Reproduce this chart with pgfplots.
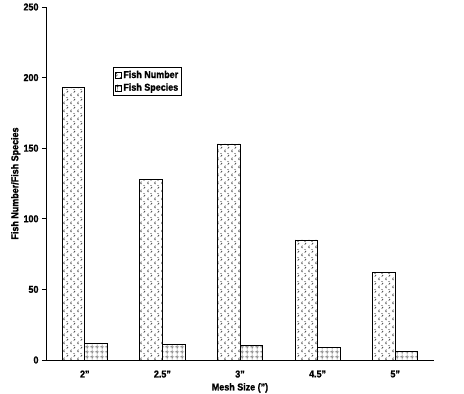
\documentclass[border=0pt]{standalone}
\usepackage{fontspec}
\setmainfont{Liberation Sans}[FakeStretch=0.9, BoldFeatures={FakeBold=1.2}]
\usepackage{pgfplots}
\pgfplotsset{compat=1.18}
\usetikzlibrary{patterns,patterns.meta}
\tikzdeclarepattern{
  name=dotgrid,
  type=uncolored,
  bottom left={(0,0)}, top right={(5bp,5bp)},
  tile size={(5bp,5bp)},
  code={\draw[line width=0.6bp, dash pattern=on 0.6bp off 0.6bp] (0,2.5bp) -- (5bp,2.5bp) (2.5bp,0) -- (2.5bp,5bp);}
}
\tikzdeclarepattern{
  name=chevdots,
  type=uncolored,
  bottom left={(0,0)}, top right={(7bp,8bp)},
  tile size={(7bp,8bp)},
  code={
    \fill (1bp,2bp) rectangle +(0.9bp,0.9bp);
    \fill (0.1bp,3bp) rectangle +(0.9bp,0.9bp);
    \fill (1bp,4bp) rectangle +(0.9bp,0.9bp);
    \fill (4.1bp,6bp) rectangle +(0.9bp,0.9bp);
    \fill (5bp,7bp) rectangle +(0.9bp,0.9bp);
    \fill (4.1bp,0bp) rectangle +(0.9bp,0.9bp);
  }
}
\begin{document}
\begin{tikzpicture}
\path[use as bounding box] (-46bp,-34bp) rectangle (418bp,360bp);
\begin{axis}[
  at={(0,0)}, anchor=south west,
  scale only axis, width=388bp, height=353bp,
  ybar, bar width=0.29,
  xmin=-0.5, xmax=4.5, ymin=0, ymax=250,
  axis x line*=bottom, axis y line*=left,
  axis line style={line width=0.8bp},
  xtick={0,1,2,3,4},
  xticklabels={2”,2.5”,3”,4.5”,5”},
  extra x ticks={-0.5,0.5,1.5,2.5,3.5,4.5},
  extra x tick labels={},
  extra x tick style={major tick length=4bp, tick style={line width=0.8bp, black}},
  x tick style={draw=none},
  ytick={0,50,100,150,200,250},
  y tick style={line width=0.8bp, black},
  tick align=outside, major tick length=4bp,
  /pgf/number format/assume math mode=true,
  tick label style={font=\fontsize{10}{11}\selectfont\bfseries},
  xticklabel style={yshift=-3bp},
  ylabel={Fish Number/Fish Species},
  xlabel={Mesh Size (”)},
  label style={font=\fontsize{10}{11}\selectfont\bfseries},
  ylabel style={at={(axis description cs:-0.078,0.5)}, anchor=center},
  xlabel style={at={(axis description cs:0.5,-0.079)}, anchor=center},
  legend style={at={(67bp,293bp)}, anchor=north west, draw=black, line width=0.6bp,
    font=\fontsize{10}{11}\selectfont\bfseries, inner sep=1.5bp, row sep=0bp,
    legend cell align=left},
  legend image code/.code={\draw[#1, line width=0.6bp] (0bp,-3bp) rectangle (6bp,3bp);},
  clip=false,
]
\addplot[draw=black, line width=0.8bp, pattern=chevdots, bar shift=-0.145] coordinates {(0,193) (1,128) (2,153) (3,85) (4,62)};
\addplot[draw=black, line width=0.8bp, pattern=dotgrid, bar shift=0.145] coordinates {(0,12) (1,11) (2,10) (3,9) (4,6)};
\legend{Fish Number, Fish Species}
\end{axis}
\end{tikzpicture}
\end{document}
